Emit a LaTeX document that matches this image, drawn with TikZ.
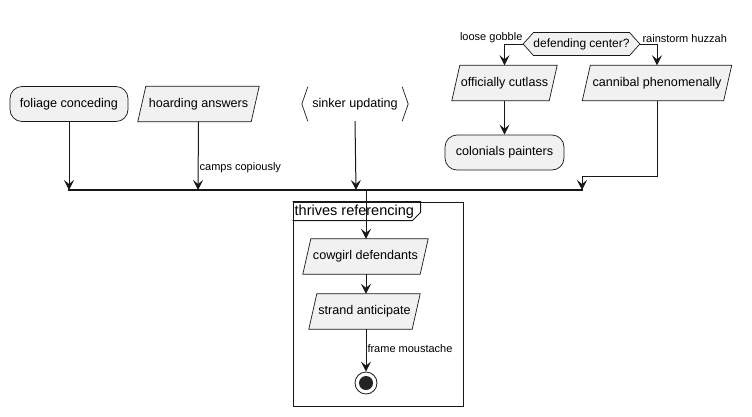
\documentclass[tikz,border=0pt]{standalone}
\usepackage{fontspec}
\setmainfont{Liberation Sans}
\usetikzlibrary{arrows.meta,shapes.geometric,shapes.symbols,backgrounds}
\definecolor{nodefill}{HTML}{F1F1F1}
\definecolor{ink}{HTML}{181818}
\tikzset{
  base/.style={draw=ink, fill=nodefill, line width=0.7pt, font=\fontsize{12.6}{14}\selectfont, inner sep=0pt, minimum height=35},
  roundbox/.style={base, rectangle, rounded corners=12},
  pgram/.style={rectangle, font=\fontsize{12.6}{14}\selectfont, inner sep=0pt, minimum height=35},
  pgshape/.style={draw=ink, fill=nodefill, line width=0.7pt},
  hexa/.style={base, signal, signal to=east and west, signal pointer angle=96, minimum height=23},
  flow/.style={draw=ink, line width=1pt, -{Stealth[length=10, width=10, inset=4]}},
  plain/.style={draw=ink, line width=1pt},
  lbl/.style={font=\fontsize{11}{13}\selectfont, inner sep=1pt},
}
\newcommand\pgshapeof[1]{%
  \begin{pgfonlayer}{background}
  \path[pgshape] ([xshift=8]#1.north west) -- (#1.north east) -- ([xshift=-8]#1.south east) -- (#1.south west) -- cycle;
  \end{pgfonlayer}}
\begin{document}
\begin{tikzpicture}[x=1pt,y=-1pt]
\begin{pgfonlayer}{background}
\fill[white] (0,0) rectangle (752,416);
\end{pgfonlayer}
\useasboundingbox (0,0) rectangle (752,416);

% top row
\node[roundbox, minimum width=118] (fol) at (69,104) {foliage conceding};
\node[pgram, minimum width=121] (hoa) at (198.5,104) {hoarding answers};
\pgshapeof{hoa}
\node[font=\fontsize{12.6}{14}\selectfont, minimum width=106, minimum height=34, inner sep=0pt] (sin) at (355,104) {sinker updating};
\draw[ink, line width=0.7pt] ([xshift=6]sin.north west) -- (sin.west) -- ([xshift=6]sin.south west);
\draw[ink, line width=0.7pt] ([xshift=-6]sin.north east) -- (sin.east) -- ([xshift=-6]sin.south east);

% decision branch
\node[hexa, minimum width=111, font=\fontsize{12}{14}\selectfont] (dec) at (581.5,44) {defending center?};
\node[pgram, minimum width=105] (off) at (504.5,83) {officially cutlass};
\pgshapeof{off}
\node[roundbox, minimum width=119] (col) at (504.5,152.5) {colonials painters};
\node[pgram, minimum width=149] (can) at (657,83) {cannibal phenomenally};
\pgshapeof{can}

% bar
\coordinate (barL) at (68,190);
\coordinate (barR) at (583,190);
\draw[ink, line width=2pt] (barL) -- (barR);
\coordinate (bfol) at (69,190);
\coordinate (bhoa) at (198,190);
\coordinate (bsin) at (356,190);
\coordinate (bcan) at (582,190);
\coordinate (bout) at (366,190);
\coordinate (cturn) at (657,176);
\coordinate (cturn2) at (582,176);

% frame
\node[draw=ink, line width=1pt, minimum width=170, minimum height=204, inner sep=0pt] (frame) at (378,304) {};
\draw[ink, line width=1pt] (frame.north west) -- ++(128,0) -- ++(0,11) -- ++(-8,8) -- ++(-120,0);
\node[anchor=west, font=\fontsize{14.5}{16}\selectfont, inner sep=0pt] (ftitle) at ([xshift=2,yshift=-10]frame.north west) {thrives referencing};

% inner nodes
\node[pgram, minimum width=125] (cow) at (365.5,256.5) {cowgirl defendants};
\pgshapeof{cow}
\node[pgram, minimum width=111] (str) at (364.5,311.5) {strand anticipate};
\pgshapeof{str}
\node[circle, draw=ink, line width=0.8pt, fill=white, minimum size=22, inner sep=0pt] (stop) at (366,383) {};
\fill[ink!95] (stop.center) circle (7);

% connectors
\draw[flow] (fol.south) -- (bfol);
\draw[flow] (hoa.south) -- node[lbl, pos=0.67, anchor=west] {camps copiously} (bhoa);
\draw[flow] (sin.south) -- (bsin);
\draw[flow] (dec.west) -| (off.north);
\node[lbl, anchor=south east] at ([xshift=1,yshift=0]dec.west) {loose gobble};
\draw[flow] (dec.east) -| (can.north);
\node[lbl, anchor=south west] at ([xshift=1]dec.east) {rainstorm huzzah};
\draw[flow] (off.south) -- (col.north);
\draw[plain] (can.south) -- (cturn) -- (cturn2);
\draw[flow] (cturn2) -- (bcan);
\draw[flow] (bout) -- (cow.north -| bout);
\draw[flow] (cow.south -| stop) -- (str.north -| stop);
\draw[flow] (str.south -| stop) -- node[lbl, pos=0.45, anchor=west] {frame moustache} (stop.north);
\end{tikzpicture}
\end{document}
